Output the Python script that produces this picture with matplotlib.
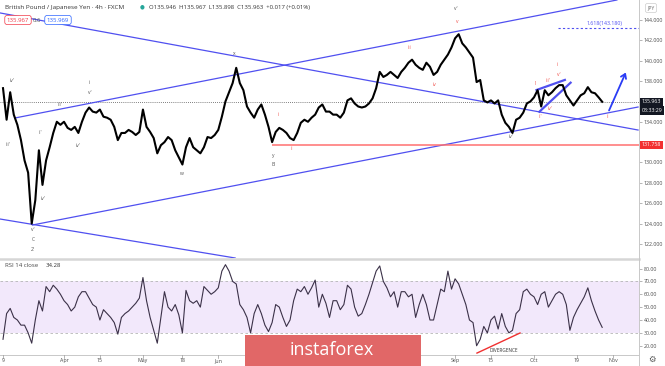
import numpy as np
import pandas as pd
import matplotlib
matplotlib.use('Agg')
import matplotlib.pyplot as plt
from matplotlib.patches import FancyArrowPatch, Rectangle

plt.rcParams['font.family'] = ['Open Sans', 'DejaVu Sans']

# GBPJPY 4h (FXCM), one close per trading day, from 9 Mar 2020
close = [
    137.3, 134.2, 136.9, 134.7, 133.7, 132.2, 130.2, 129.0, 124.0, 126.3,
    131.2, 127.8, 130.2, 131.5, 132.9, 134.0, 133.7, 134.0, 133.4, 133.2,
    133.5, 132.9, 134.0, 134.9, 135.4, 135.0, 134.9, 135.2, 134.5, 134.4,
    134.2, 133.5, 132.2, 132.9, 132.9, 133.2, 133.0, 132.7, 133.0, 135.2,
    133.5, 133.0, 132.4, 130.9, 131.7, 132.0, 132.5, 132.2, 131.2, 130.5,
    129.8, 131.5, 132.4, 131.5, 131.2, 130.9, 131.5, 132.5, 132.4, 132.7,
    133.2, 134.5, 136.0, 136.9, 137.8, 139.3, 137.8, 137.1, 135.5, 134.9,
    134.4, 135.2, 135.7, 134.7, 133.5, 132.0, 133.0, 133.4, 133.2, 132.9,
    132.4, 132.2, 132.9, 133.9, 134.2, 134.0, 134.4, 134.7, 135.4, 135.7,
    135.0, 135.0, 134.7, 134.7, 134.4, 134.9, 136.1, 136.3, 135.8, 135.5,
    135.4, 135.5, 135.8, 136.3, 137.3, 138.9, 138.4, 138.6, 138.9, 138.6,
    138.3, 138.9, 139.3, 139.8, 140.1, 139.6, 139.3, 139.1, 139.8, 139.4,
    138.6, 138.9, 139.6, 140.1, 140.6, 141.3, 142.2, 142.6, 141.7, 141.3,
    140.8, 140.3, 137.9, 138.1, 136.1, 135.9, 136.1, 135.8, 136.1, 134.7,
    133.9, 133.5, 132.9, 134.2, 134.4, 134.9, 135.8, 136.0, 136.4, 137.1,
    135.5, 137.1, 136.6, 136.9, 137.3, 137.6, 137.6, 136.6, 136.1, 135.6,
    136.1, 136.6, 136.8, 137.4, 136.9, 136.8, 136.4, 135.963,
]

# RSI 14 (close), same days
rsi = [
    25, 45, 49, 42, 40, 36, 36, 30, 22, 40,
    55, 47, 66, 62, 67, 64, 60, 55, 52, 47,
    50, 58, 62, 62, 57, 52, 50, 40, 48, 45,
    42, 38, 29, 42, 45, 47, 50, 53, 57, 73,
    55, 42, 32, 22, 42, 62, 50, 47, 52, 44,
    30, 63, 55, 53, 55, 50, 66, 63, 60, 62,
    65, 78, 83, 78, 70, 68, 52, 48, 42, 30,
    45, 52, 45, 36, 31, 38, 52, 50, 42, 35,
    40, 55, 64, 62, 66, 60, 65, 71, 50, 60,
    53, 42, 55, 55, 48, 52, 67, 64, 50, 43,
    45, 52, 60, 69, 78, 82, 70, 65, 58, 62,
    50, 62, 62, 58, 60, 42, 52, 60, 52, 40,
    40, 52, 64, 62, 78, 64, 72, 68, 60, 52,
    40, 38, 20, 25, 35, 30, 40, 43, 33, 45,
    35, 30, 32, 45, 48, 62, 64, 60, 58, 52,
    60, 62, 50, 55, 60, 62, 60, 52, 32, 42,
    48, 53, 58, 65, 55, 47, 40, 34.28,
]

# drawing tools on the chart: (day index, price)
upper_channel = [(3.3, 134.37), (171.1, 145.96)]
lower_channel = [(8.2, 123.86), (177.0, 135.45)]
upper_falling = [(-0.84, 144.69), (177.0, 133.19)]
lower_falling = [(-0.84, 124.45), (64.7, 120.62)]
diag_top = [(148.7, 137.12), (156.6, 138.11)]
diag_bottom = [(149.5, 134.99), (158.2, 137.84)]
arrow_path = [(168.6, 134.86), (173.9, 139.09)]
support_start, support_level = 75.0, 131.758
fib_start, fib_level = 154.7, 143.180
divergence = [(132.1, 14.3), (144.1, 29.9)]

gray_labels = [
    (2.5, 138.1, "iv'"), (1.4, 131.8, "iii'"), (8.4, 123.4, "v'"), (8.4, 122.4, "C"),
    (8.4, 121.5, "2'"), (10.3, 132.9, "ii'"), (11.2, 126.5, "iv'"), (15.9, 135.65, "iii'"),
    (20.9, 131.7, "iv'"), (24.0, 137.9, "i"), (24.25, 136.9, "v'"), (49.9, 128.9, "w"),
    (64.4, 140.7, "x"), (75.25, 130.7, "y"), (75.25, 129.85, "B"), (126.25, 145.1, "v'"),
    (141.6, 132.6, "iv'"),
]
red_labels = [
    (76.6, 134.7, "i"), (80.5, 131.4, "ii"), (113.4, 141.25, "iii"), (120.4, 137.7, "iv"),
    (126.5, 143.8, "v"), (148.6, 137.8, "i'"), (149.9, 134.5, "ii'"), (151.9, 138.1, "iii'"),
    (152.5, 135.3, "iv'"), (155.0, 138.6, "v'"), (154.4, 139.6, "i"), (168.6, 134.5, "ii"),
]

date_ticks = ['2020-03-09', '2020-04-01', '2020-04-15', '2020-05-01', '2020-05-18',
              '2020-06-01', '2020-06-15', '2020-07-01', '2020-07-15', '2020-08-03',
              '2020-08-17', '2020-09-01', '2020-09-15', '2020-10-01', '2020-10-19',
              '2020-11-02']
date_labels = ['9', 'Apr', '15', 'May', '18', 'Jun', '15', 'Jul', '15', 'Aug',
               '17', 'Sep', '15', 'Oct', '19', 'Nov']

# 136 and 132 sit under the last-price and support boxes
price_ticks = [122, 124, 126, 128, 130, 134, 138, 140, 142, 144]
rsi_ticks = np.arange(20, 81, 10)

BLUE = '#5050f0'
RED = '#f0504a'
GRAY = '#555555'
AXIS_TXT = '#4a4a4a'
FS = 3.8

days = pd.bdate_range('2020-03-09', '2020-11-30')
tick_pos = [days.get_loc(pd.Timestamp(d)) for d in date_ticks]
x = np.arange(len(close))
xlim = (-0.84, 177.26)

fig = plt.figure(figsize=(6.65, 3.66), dpi=100)
W, H = 665, 366
ax = fig.add_axes([0, 1 - 258 / H, 639 / W, 258 / H])
ax_r = fig.add_axes([0, 1 - 355 / H, 639 / W, 96 / H])

for a in (ax, ax_r):
    a.set_xlim(*xlim)
    for s in a.spines.values():
        s.set_visible(False)
    a.tick_params(axis='x', length=0, labelbottom=False)
    a.yaxis.tick_right()
    a.tick_params(axis='y', length=2, width=0.5, color='#999999',
                  labelsize=FS, labelcolor=AXIS_TXT, pad=1.2)

ax.set_ylim(120.62, 145.96)
ax.set_yticks(price_ticks)
ax.set_yticklabels([f'{v:.3f}' for v in price_ticks])

# drawings
def seg(a, pts, **kw):
    a.plot([p[0] for p in pts], [p[1] for p in pts], **kw)

for line in (upper_channel, lower_channel, upper_falling, lower_falling):
    seg(ax, line, color=BLUE, lw=0.9, zorder=2)
for line in (diag_top, diag_bottom):
    seg(ax, line, color=BLUE, lw=1.6, zorder=2)

ax.hlines(support_level, support_start, xlim[1], color='#ff7070', lw=1.1, zorder=2)
ax.hlines(fib_level, fib_start, xlim[1], color=BLUE, lw=0.8, ls=(0, (2, 2)), zorder=2)
ax.text(172.6, fib_level + 0.25, f'1.618({fib_level:.3f})', color=BLUE, fontsize=FS,
        ha='right', va='bottom')

ax.axhline(close[-1], color='#555555', lw=0.6, ls=(0, (1, 1.5)), zorder=1)

ax.plot(x, close, color='black', lw=1.5, zorder=3)

ax.add_patch(FancyArrowPatch(arrow_path[0], arrow_path[1], arrowstyle='->,head_length=3,head_width=2',
                             color='#2a3cf5', lw=1.3, zorder=4))

for xi, yi, t in gray_labels:
    ax.text(xi, yi, t, color=GRAY, fontsize=3.6, ha='center', va='center', zorder=5)
for xi, yi, t in red_labels:
    ax.text(xi, yi, t, color=RED, fontsize=3.6, ha='center', va='center', zorder=5)

# right-axis price boxes
def axis_box(a, y, txt, fc, dy=0):
    a.annotate(txt, xy=(1, y), xycoords=('axes fraction', 'data'), xytext=(2.0, dy),
               textcoords='offset points', ha='left', va='center', fontsize=FS,
               color='white', annotation_clip=False,
               bbox=dict(boxstyle='square,pad=0.3', fc=fc, ec='none'), zorder=10)

axis_box(ax, close[-1], f'{close[-1]:.3f}', '#131722')
axis_box(ax, close[-1], '03:33:29', '#131722', dy=-6.3)
axis_box(ax, support_level, f'{support_level:.3f}', '#f23030')

# header
fig.text(5 / W, 1 - 7 / H, 'British Pound / Japanese Yen · 4h · FXCM', fontsize=4.6,
         color='#333333', va='center')
fig.text(142 / W, 1 - 7 / H, '●', fontsize=4, color='#26a69a', va='center', ha='center')
fig.text(149 / W, 1 - 7 / H, 'O135.946  H135.967  L135.898  C135.963  +0.017 (+0.01%)',
         fontsize=4.3, color='#333333', va='center')
fig.text(18 / W, 1 - 20 / H, '135.967', fontsize=4.3, color='#f23645', va='center', ha='center',
         bbox=dict(boxstyle='round,pad=0.35,rounding_size=0.4', fc='white', ec='#f23645', lw=0.5))
fig.text(37 / W, 1 - 20 / H, '0.6', fontsize=4.3, color='#555555', va='center', ha='center')
fig.text(58 / W, 1 - 20 / H, '135.969', fontsize=4.3, color='#2962ff', va='center', ha='center',
         bbox=dict(boxstyle='round,pad=0.35,rounding_size=0.4', fc='white', ec='#2962ff', lw=0.5))
fig.text(651 / W, 1 - 8 / H, 'JPY', fontsize=3.6, color='#666666', va='center', ha='center',
         bbox=dict(boxstyle='round,pad=0.4,rounding_size=0.4', fc='white', ec='#cccccc', lw=0.5))

# RSI pane
ax_r.set_ylim(12.8, 87.4)
ax_r.axhspan(30, 70, color='#f2e8fb', lw=0, zorder=0)
for lv in (70, 30):
    ax_r.axhline(lv, color='#b5b5b5', lw=0.6, ls=(0, (3, 3)), zorder=1)
ax_r.plot(x, rsi, color='#3b3148', lw=0.8, zorder=3)
seg(ax_r, divergence, color='#f03030', lw=1.0, zorder=4)
ax_r.text(139.5, 16.0, 'DIVERGENCE', fontsize=3.4, color='#333333', ha='center', va='center')
ax_r.set_yticks(rsi_ticks)
ax_r.set_yticklabels([f'{v:.2f}' for v in rsi_ticks])
ax_r.text(0.008, 0.93, 'RSI 14 close', transform=ax_r.transAxes, fontsize=4.3,
          color='#444444', va='center')
ax_r.text(0.072, 0.93, f'{rsi[-1]:.2f}', transform=ax_r.transAxes, fontsize=4.3,
          color='#333333', va='center')

# separators and time axis
fig.add_artist(plt.Line2D([0, 639 / W], [1 - 258.5 / H] * 2, color='#d6d6d6', lw=1.8))
fig.add_artist(plt.Line2D([639 / W] * 2, [0, 1], color='#c8c8c8', lw=0.7))
fig.add_artist(plt.Line2D([0, 639 / W], [1 - 355 / H] * 2, color='#c8c8c8', lw=0.7))
for p, lab in zip(tick_pos, date_labels):
    xf = ax_r.transData.transform((p, 0))[0] / fig.bbox.width
    fig.add_artist(plt.Line2D([xf, xf], [1 - 355 / H, 1 - 357.5 / H], color='#999999', lw=0.5))
    fig.text(xf, 1 - 360.5 / H, lab, fontsize=FS, color=AXIS_TXT, ha='center', va='center')
fig.text(652 / W, 1 - 360 / H, '⚙', fontsize=6, color='#555555', ha='center', va='center')

# watermark
fig.add_artist(Rectangle((245 / W, 0), 176 / W, 31 / H, transform=fig.transFigure,
                         fc='#e16767', ec='none', zorder=20))
fig.text(332 / W, 1 - 350 / H, 'instaforex', fontsize=13, color='white', ha='center',
         va='center', zorder=21)

fig.savefig('out.png', dpi=100)
